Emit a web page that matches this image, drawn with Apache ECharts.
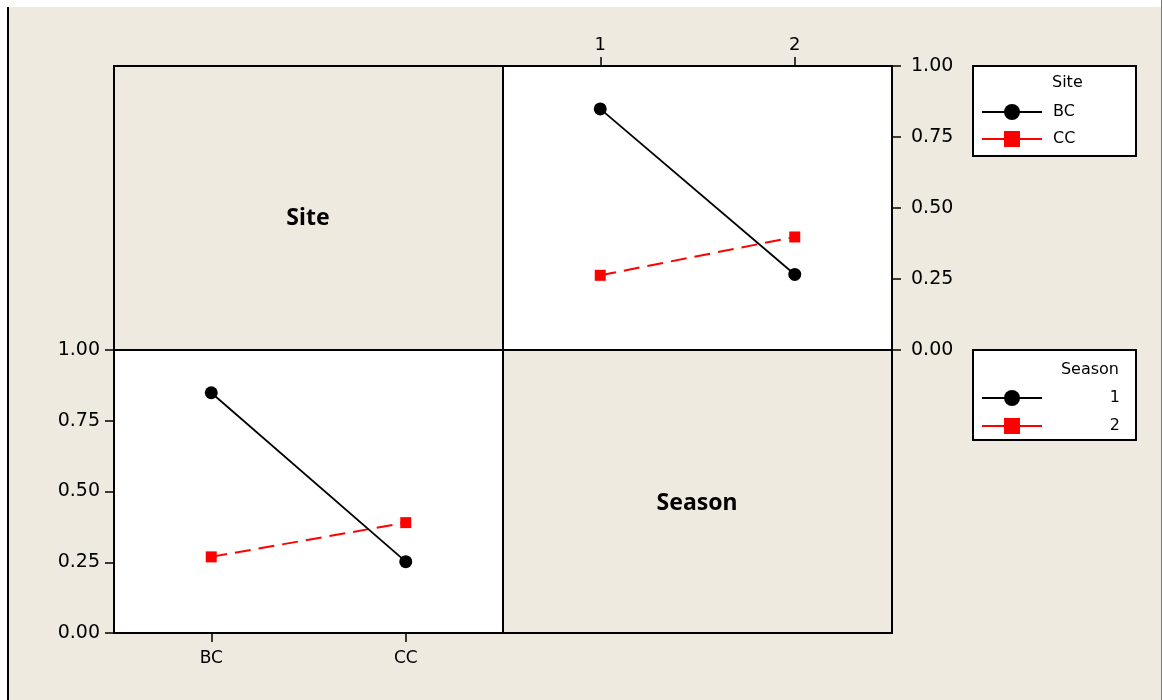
<!DOCTYPE html>
<html><head><meta charset="utf-8">
<script src="https://cdn.jsdelivr.net/npm/echarts@6/dist/echarts.min.js"></script>
<style>html,body{margin:0;padding:0;background:#fff}#c{width:1162px;height:700px}</style>
</head><body><div id="c"></div>
<script>
// ---- data ----
const seasons = ['1', '2'];
const sites = ['BC', 'CC'];
const yMin = 0, yMax = 1, yStep = 0.25;
// Upper-right panel: Season on x axis, one line per Site
const siteBC = [0.849, 0.266];
const siteCC = [0.263, 0.398];
// Lower-left panel: Site on x axis, one line per Season
const season1 = [0.849, 0.252];
const season2 = [0.269, 0.390];

// ---- styles ----
const BG = '#EEEAE0';
const FONT = 'DejaVu Sans';
const axisLine = { show: true, onZero: false, lineStyle: { color: '#000', width: 2 } };
const axisTick = (len) => ({ show: true, alignWithLabel: true, length: len, lineStyle: { color: '#000', width: 1.5 } });
const lbl = (m, size, extra) => Object.assign({ color: '#000', fontFamily: FONT, fontSize: size, margin: m }, extra || {});
const fmt2 = v => v.toFixed(2);
const gridBase = { show: true, borderColor: '#000', borderWidth: 2, outerBoundsMode: 'none', containLabel: false };

const chart = echarts.init(document.getElementById('c'), null, { renderer: 'canvas' });
chart.setOption({
  animation: false,
  backgroundColor: BG,
  grid: [
    Object.assign({ left: 503, top: 66, width: 389, height: 284, backgroundColor: '#fff' }, gridBase),
    Object.assign({ left: 114, top: 350, width: 389, height: 283, backgroundColor: '#fff' }, gridBase),
    Object.assign({ left: 114, top: 66, width: 389, height: 284, backgroundColor: 'transparent' }, gridBase),
    Object.assign({ left: 503, top: 350, width: 389, height: 283, backgroundColor: 'transparent' }, gridBase)
  ],
  xAxis: [
    { gridIndex: 0, type: 'category', data: seasons, position: 'top', boundaryGap: true,
      axisLine, axisTick: axisTick(9), axisLabel: lbl(12, 18), splitLine: { show: false } },
    { gridIndex: 1, type: 'category', data: sites, position: 'bottom', boundaryGap: true,
      axisLine, axisTick: axisTick(9), axisLabel: lbl(17, 17), splitLine: { show: false } },
    { gridIndex: 2, type: 'value', show: false },
    { gridIndex: 3, type: 'value', show: false }
  ],
  yAxis: [
    { gridIndex: 0, type: 'value', position: 'right', min: yMin, max: yMax, interval: yStep,
      axisLine, axisTick: axisTick(9), splitLine: { show: false },
      axisLabel: lbl(19, 19, { formatter: fmt2, showMinLabel: true, showMaxLabel: true }) },
    { gridIndex: 1, type: 'value', position: 'left', min: yMin, max: yMax, interval: yStep,
      axisLine, axisTick: axisTick(9), splitLine: { show: false },
      axisLabel: lbl(14, 19, { formatter: fmt2, showMinLabel: true, showMaxLabel: true }) },
    { gridIndex: 2, type: 'value', show: false },
    { gridIndex: 3, type: 'value', show: false }
  ],
  legend: [
    { data: sites, orient: 'vertical', left: 981, top: 104, padding: 0,
      itemWidth: 60, itemHeight: 20, itemGap: 11, selectedMode: false,
      lineStyle: { type: 'solid', width: 2 },
      textStyle: { color: '#000', fontFamily: FONT, fontSize: 16, padding: [0, 0, 0, 6] } },
    { data: seasons, orient: 'vertical', left: 981, top: 390, padding: 0,
      itemWidth: 60, itemHeight: 20, itemGap: 12, selectedMode: false,
      lineStyle: { type: 'solid', width: 2 },
      formatter: n => '{r|' + n + '}',
      textStyle: { color: '#000', fontFamily: FONT, fontSize: 16,
        rich: { r: { width: 73, align: 'right', color: '#000', fontFamily: FONT, fontSize: 16 } } } }
  ],
  graphic: [
    { type: 'rect', z: 100, silent: true, shape: { x: 0, y: 0, width: 1162, height: 7 }, style: { fill: '#fff' } },
    { type: 'rect', z: 100, silent: true, shape: { x: 0, y: 0, width: 7, height: 700 }, style: { fill: '#fff' } },
    { type: 'line', z: 100, silent: true, shape: { x1: 8, y1: 7, x2: 8, y2: 700 }, style: { stroke: '#000', lineWidth: 2 } },
    { type: 'line', z: 100, silent: true, shape: { x1: 1161.5, y1: 0, x2: 1161.5, y2: 700 }, style: { stroke: '#777', lineWidth: 1 } },
    { type: 'rect', z: 1, silent: true, shape: { x: 973, y: 66, width: 163, height: 90 }, style: { fill: '#fff', stroke: '#000', lineWidth: 2 } },
    { type: 'rect', z: 1, silent: true, shape: { x: 973, y: 350, width: 163, height: 90 }, style: { fill: '#fff', stroke: '#000', lineWidth: 2 } },
    { type: 'text', z: 5, silent: true, x: 1052, y: 83, style: { text: 'Site', fill: '#000', font: '16px "DejaVu Sans"', verticalAlign: 'middle', align: 'left' } },
    { type: 'text', z: 5, silent: true, x: 1119, y: 370, style: { text: 'Season', fill: '#000', font: '16px "DejaVu Sans"', verticalAlign: 'middle', align: 'right' } },
    { type: 'text', z: 5, silent: true, x: 308, y: 218, style: { text: 'Site', fill: '#000', font: 'bold 23px "Noto Sans"', verticalAlign: 'middle', align: 'center' } },
    { type: 'text', z: 5, silent: true, x: 697, y: 503, style: { text: 'Season', fill: '#000', font: 'bold 23px "Noto Sans"', verticalAlign: 'middle', align: 'center' } }
  ],
  series: [
    { name: 'BC', type: 'line', xAxisIndex: 0, yAxisIndex: 0, data: siteBC,
      symbol: 'circle', symbolSize: 13, itemStyle: { color: '#000' }, lineStyle: { color: '#000', width: 1.8 }, z: 3 },
    { name: 'CC', type: 'line', xAxisIndex: 0, yAxisIndex: 0, data: siteCC,
      symbol: 'rect', symbolSize: 11, itemStyle: { color: '#f00' }, lineStyle: { color: '#f00', width: 2, type: [16, 8] }, z: 2 },
    { name: '1', type: 'line', xAxisIndex: 1, yAxisIndex: 1, data: season1,
      symbol: 'circle', symbolSize: 13, itemStyle: { color: '#000' }, lineStyle: { color: '#000', width: 1.8 }, z: 3 },
    { name: '2', type: 'line', xAxisIndex: 1, yAxisIndex: 1, data: season2,
      symbol: 'rect', symbolSize: 11, itemStyle: { color: '#f00' }, lineStyle: { color: '#f00', width: 2, type: [16, 8] }, z: 2 }
  ]
});
</script></body></html>
